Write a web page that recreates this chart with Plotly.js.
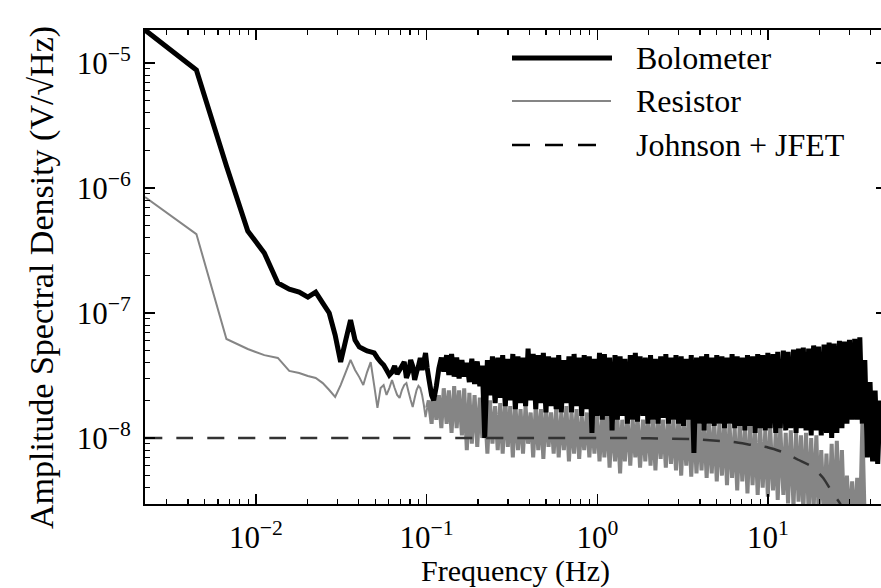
<!DOCTYPE html>
<html>
<head>
<meta charset="utf-8">
<script src="https://cdn.plot.ly/plotly-3.0.1.min.js"></script>
<style>
html, body { margin: 0; padding: 0; overflow: hidden; background: #fff; }
#chart { width: 886px; height: 588px; }
</style>
</head>
<body>
<div id="chart"></div>
<script>
// ---- Data (amplitudes in nV/sqrt(Hz), frequencies in Hz) ----
const freqLow = [0.00224, 0.00448, 0.00672, 0.00896, 0.0112, 0.01344, 0.01568, 0.01792, 0.02016, 0.0224,
  0.02464, 0.02688, 0.02912, 0.03136, 0.0336, 0.03584, 0.03808, 0.04032, 0.04256, 0.0448,
  0.04704, 0.04928, 0.05152, 0.05376, 0.056, 0.05824, 0.06048, 0.06272, 0.06496, 0.0672,
  0.06944, 0.07168, 0.07392, 0.07616, 0.0784, 0.08064, 0.08288, 0.08512, 0.08736, 0.0896,
  0.09184, 0.09408, 0.09632, 0.09856, 0.1008];

const freqHigh = [0.103, 0.107, 0.110, 0.114, 0.118, 0.122, 0.126, 0.131, 0.135, 0.140,
  0.145, 0.150, 0.155, 0.161, 0.166, 0.172, 0.178, 0.184, 0.191, 0.198,
  0.205, 0.212, 0.219, 0.227, 0.235, 0.243, 0.252, 0.261, 0.270, 0.279,
  0.289, 0.299, 0.309, 0.320, 0.331, 0.343, 0.355, 0.367, 0.380, 0.393,
  0.407, 0.421, 0.436, 0.451, 0.467, 0.483, 0.500, 0.518, 0.536, 0.555,
  0.574, 0.594, 0.615, 0.637, 0.659, 0.682, 0.706, 0.731, 0.756, 0.783,
  0.810, 0.838, 0.868, 0.898, 0.930, 0.962, 0.996, 1.03, 1.07, 1.10,
  1.14, 1.18, 1.22, 1.27, 1.31, 1.36, 1.40, 1.45, 1.50, 1.56,
  1.61, 1.67, 1.72, 1.78, 1.85, 1.91, 1.98, 2.05, 2.12, 2.19,
  2.27, 2.35, 2.43, 2.52, 2.61, 2.70, 2.79, 2.89, 2.99, 3.10,
  3.20, 3.32, 3.43, 3.55, 3.68, 3.81, 3.94, 4.08, 4.22, 4.37,
  4.52, 4.68, 4.84, 5.01, 5.19, 5.37, 5.56, 5.75, 5.95, 6.16,
  6.38, 6.60, 6.83, 7.07, 7.32, 7.58, 7.84, 8.12, 8.40, 8.70,
  9.00, 9.31, 9.64, 9.98, 10.3, 10.7, 11.1, 11.4, 11.8, 12.3,
  12.7, 13.1, 13.6, 14.1, 14.6, 15.1, 15.6, 16.1, 16.7, 17.3,
  17.9, 18.5, 19.2, 19.8, 20.5, 21.3, 22.0, 22.8, 23.6, 24.4,
  25.3, 26.2, 27.1, 28.0, 29.0, 30.0, 31.1, 32.2, 33.3, 34.5,
  35.7, 36.9, 38.2, 39.6, 41.0, 42.4, 43.9, 45.4];

const bolometerLow = [18370, 8790, 1500, 453, 302, 174, 155, 147, 134, 147,
  120, 100, 66.7, 40.6, 60.8, 87.9, 60.8, 53.5, 51.5, 49.7,
  48.8, 47.9, 43.7, 40.6, 38.4, 35.0, 31.9, 33.7, 37.7, 32.5,
  35.0, 37.7, 40.6, 30.2, 33.7, 42.1, 37.7, 29.1, 33.7, 37.7,
  43.7, 35.0, 40.6, 47.9, 36.3];

const bolometerHigh = [30, 22, 20, 26, 36, 44, 34, 46, 32, 47,
  31, 44, 30, 42, 31, 40, 28, 43, 27, 41,
  26, 38, 10, 42, 22, 45, 19, 44, 21, 46,
  18, 43, 20, 47, 17, 45, 19, 44, 18, 52,
  20, 47, 17, 46, 19, 48, 16, 45, 18, 44,
  17, 46, 16, 42, 19, 45, 16, 47, 18, 44,
  15, 46, 17, 45, 11, 43, 15, 48, 14, 47,
  15, 44, 11.5, 46, 14, 45, 15, 43, 13, 46,
  14, 48, 13.5, 45, 15, 44, 13, 46, 14, 43,
  13, 45, 14.5, 47, 13, 44, 14, 46, 13, 45,
  12.5, 43, 14, 46, 7.6, 44, 13, 45, 11.5, 47,
  13, 44, 12.5, 46, 13, 45, 12, 44, 13, 47,
  12, 45, 12.5, 44, 11.5, 46, 12.5, 45, 11, 47,
  12, 46, 11.5, 48, 12, 47, 11, 49, 12, 50,
  11.5, 49, 12, 51, 11, 52, 12, 53, 11.5, 52,
  10.5, 55, 11.5, 54, 10.5, 56, 11, 58, 10, 57,
  11, 60, 12, 59, 13, 61, 14, 62, 14, 64,
  13, 42, 7, 28, 6.5, 24, 6.2, 20];

const resistorLow = [847, 428, 62.0, 51.5, 46.0, 43.7, 34.4, 33.1, 31.3, 30.2,
  27.5, 24.2, 21.3, 26.5, 33.7, 42.1, 35.0, 30.7, 26.5, 33.7,
  40.5, 26.5, 17.4, 25.1, 26.5, 22.1, 25.1, 29.1, 25.1, 22.1,
  20.9, 24.2, 26.5, 27.5, 23.3, 20.1, 17.7, 20.9, 24.2, 26.1,
  25.1, 22.1, 18.4, 14.7, 17.4];

const resistorHigh = [20, 13, 24, 14, 22, 12, 25, 13, 24, 11,
  26, 12, 24, 10.5, 25, 8, 23, 9, 22, 8.5,
  21, 10, 19, 7.5, 20, 9, 18, 8, 19, 7.5,
  20, 8.5, 18, 7, 19, 8, 17, 7.5, 18, 9,
  16, 7, 18, 8, 17, 6.8, 18, 8.5, 16, 7.5,
  17, 7, 16, 8, 18, 6.5, 16, 7.5, 17, 6.8,
  15, 8, 16, 7, 15, 7.5, 16, 6.5, 15, 7,
  16, 5.8, 14, 6.5, 15, 5.2, 14, 6.5, 15, 6,
  14, 7, 15, 5.8, 14, 6.5, 15, 6, 14, 5.5,
  15, 6.8, 14, 5.8, 15, 6.2, 14, 5.5, 15, 5,
  14, 6, 15, 4.9, 14, 5.2, 13, 5.5, 14, 4.8,
  13, 5.2, 14, 4.5, 13, 5, 14, 4.2, 13, 4.8,
  12, 3.8, 13, 4.5, 12, 3.6, 13, 4.2, 12, 3.5,
  12, 4, 11.5, 3.4, 12, 3.8, 11, 3.2, 12, 3.5,
  11, 3, 11.5, 2.8, 11, 3.1, 10.5, 2.6, 11, 2.5,
  10, 2.7, 10.5, 2.4, 8, 2.3, 7.5, 2.2, 9, 2.1,
  9.5, 2.2, 8, 2.0, 5, 2.0, 4.5, 1.8, 4.8, 1.8,
  13, 2.0];

const johnsonFreq = [0.00224, 1.0, 2.0, 3.5, 5.0, 6.24, 8.06, 10.0, 12.2, 15.0, 18.1, 21.0, 23.7, 26.4, 29.3, 33, 40];
const johnsonNV   = [10, 10, 9.95, 9.8, 9.5, 9.3, 8.8, 8.4, 7.7, 6.7, 5.9, 4.8, 3.7, 3.0, 2.2, 1.6, 1.0];

const seriesNames = ['Bolometer', 'Resistor', 'Johnson + JFET'];

const xTickVals = [0.01, 0.1, 1, 10];
const xTickText = ['10<sup>−2</sup>', '10<sup>−1</sup>', '10<sup>0</sup>', '10<sup>1</sup>'];
const yTickVals = [1e-8, 1e-7, 1e-6, 1e-5];
const yTickText = ['10<sup>−8</sup>', '10<sup>−7</sup>', '10<sup>−6</sup>', '10<sup>−5</sup>'];

const xTitle = 'Frequency (Hz)';
const yTitle = 'Amplitude Spectral Density (V/√Hz)';

// ---- Build traces ----
const NV = 1e-9; // nV -> V
const toV = arr => arr.map(v => v * NV);

const nLow = freqLow.length;
const bolAll = bolometerLow.concat(bolometerHigh);
const resAll = resistorLow.concat(resistorHigh);
const freqAll = freqLow.concat(freqHigh);

const FONT = '"Liberation Serif", "Times New Roman", serif';
const GREY = '#858585';

const traces = [
  // Resistor: sparse low-frequency part, then the dense noise band
  { x: freqAll.slice(0, nLow), y: toV(resAll.slice(0, nLow)), mode: 'lines',
    line: { color: GREY, width: 2, simplify: false }, hoverinfo: 'skip' },
  { x: freqAll.slice(nLow - 1, resAll.length), y: toV(resAll.slice(nLow - 1)), mode: 'lines',
    line: { color: GREY, width: 4, simplify: false }, hoverinfo: 'skip' },
  // Bolometer
  { x: freqAll.slice(0, bolAll.length), y: toV(bolAll), mode: 'lines',
    line: { color: '#000000', width: 5, simplify: false }, hoverinfo: 'skip' },
  // Johnson + JFET
  { x: johnsonFreq, y: toV(johnsonNV), mode: 'lines',
    line: { color: '#333333', width: 2.5, dash: '17px,14px', shape: 'spline', smoothing: 0.6 }, hoverinfo: 'skip' }
];

// plot area geometry for legend placement (paper fractions)
const L = 145, R = 886, T = 30, B = 504;
const px = v => (v - L) / (R - L);
const py = v => (B - v) / (B - T);

const legendRows = [58, 101, 145];
const shapes = [
  { type: 'line', xref: 'paper', yref: 'paper', x0: px(512), x1: px(612), y0: py(legendRows[0]), y1: py(legendRows[0]),
    line: { color: '#000', width: 5 } },
  { type: 'line', xref: 'paper', yref: 'paper', x0: px(512), x1: px(611), y0: py(legendRows[1]), y1: py(legendRows[1]),
    line: { color: GREY, width: 2.2 } },
  { type: 'line', xref: 'paper', yref: 'paper', x0: px(512), x1: px(611), y0: py(legendRows[2]), y1: py(legendRows[2]),
    line: { color: '#000', width: 2.5, dash: '18px,15px' } }
];
const annotations = seriesNames.map((s, i) => ({
  text: s, xref: 'paper', yref: 'paper', x: px(634), y: py(legendRows[i]),
  xanchor: 'left', yanchor: 'middle', showarrow: false,
  font: { family: FONT, size: 32, color: '#000' }
}));
annotations.push({
  text: xTitle, xref: 'paper', yref: 'paper', x: px(515), y: py(571),
  xanchor: 'center', yanchor: 'middle', showarrow: false,
  font: { family: FONT, size: 30, color: '#000' }
});
annotations.push({
  text: yTitle, xref: 'paper', yref: 'paper', x: px(42), y: py(278), textangle: -90,
  xanchor: 'center', yanchor: 'middle', showarrow: false,
  font: { family: FONT, size: 34, color: '#000' }
});

const axisCommon = {
  type: 'log', showline: true, linecolor: '#000', linewidth: 2, mirror: 'ticks',
  ticks: 'inside', ticklen: 10, tickwidth: 1.5, tickcolor: '#000',
  tickmode: 'array',
  tickfont: { family: FONT, size: 31, color: '#000' },
  minor: { ticks: 'inside', ticklen: 5, tickwidth: 1.2, tickcolor: '#000', dtick: 'D1', showgrid: false },
  showgrid: false, zeroline: false
};

const layout = {
  width: 886, height: 588,
  margin: { l: L, r: 0, t: T, b: 588 - B },
  paper_bgcolor: '#fff', plot_bgcolor: '#fff',
  showlegend: false,
  font: { family: FONT, color: '#000' },
  xaxis: Object.assign({}, axisCommon, {
    range: [Math.log10(0.00224), Math.log10(0.00224) + (R - L) / 170.7],
    tickvals: xTickVals, ticktext: xTickText,
    ticklabelstandoff: 5
  }),
  yaxis: Object.assign({}, axisCommon, {
    range: [-8.528, -4.736],
    tickvals: yTickVals, ticktext: yTickText,
    ticklabelstandoff: 6
  }),
  shapes: shapes,
  annotations: annotations
};

Plotly.newPlot('chart', traces, layout, { staticPlot: true, displayModeBar: false });
</script>
</body>
</html>
